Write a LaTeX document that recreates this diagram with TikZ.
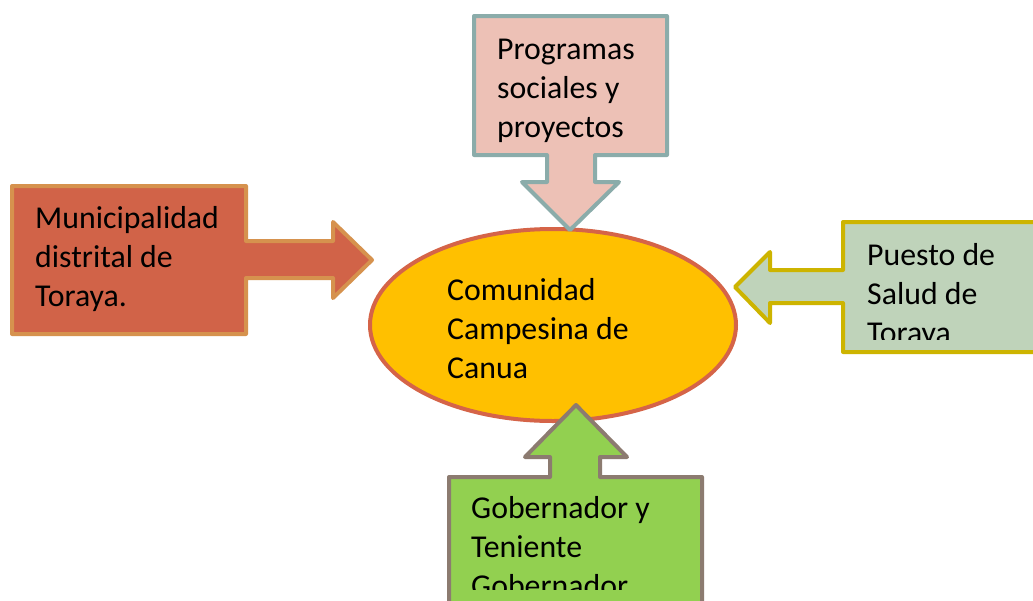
\documentclass[tikz,border=0pt]{standalone}
\usepackage{fontspec}
\setmainfont{Carlito}
\usetikzlibrary{shapes.geometric}
\definecolor{muniFill}{RGB}{209,99,72}
\definecolor{muniLine}{RGB}{214,146,78}
\definecolor{progFill}{RGB}{237,193,182}
\definecolor{progLine}{RGB}{139,172,170}
\definecolor{saludFill}{RGB}{191,211,186}
\definecolor{saludLine}{RGB}{205,180,0}
\definecolor{gobFill}{RGB}{146,208,80}
\definecolor{gobLine}{RGB}{140,123,112}
\definecolor{ellFill}{RGB}{255,192,0}
\definecolor{ellLine}{RGB}{213,100,72}
\tikzset{
  callout/.style={line width=4pt, line join=round},
  lbl/.style={anchor=base west, inner sep=0pt, font=\fontsize{31.8}{39}\selectfont, align=left}
}
\begin{document}
\begin{tikzpicture}[x=1pt,y=-1pt]
\clip (0,0) rectangle (1033,600);
\fill[white] (0,0) rectangle (1033,600);
% central ellipse
\node[draw=ellLine, fill=ellFill, line width=4pt, ellipse, minimum width=366pt, minimum height=192pt, inner sep=0pt] (center) at (553,325) {};
% left: Municipalidad
\draw[callout, draw=muniLine, fill=muniFill]
  (12,186) -- (246,186) -- (246,241) -- (333,241) -- (333,222) -- (372,260)
  -- (333,298) -- (333,278) -- (246,278) -- (246,334) -- (12,334) -- cycle;
% top: Programas
\draw[callout, draw=progLine, fill=progFill]
  (474,16) -- (667,16) -- (667,155) -- (595,155) -- (595,182) -- (619,182) -- (570,230)
  -- (522,182) -- (547,182) -- (547,155) -- (474,155) -- cycle;
% right: Puesto de Salud
\draw[callout, draw=saludLine, fill=saludFill]
  (1045,222) -- (843,222) -- (843,270) -- (770,270) -- (770,252) -- (735,287)
  -- (770,323) -- (770,303) -- (843,303) -- (843,352) -- (1045,352);
% bottom: Gobernador
\draw[callout, draw=gobLine, fill=gobFill]
  (449,620) -- (449,477) -- (550,477) -- (550,457) -- (525,457) -- (576,405)
  -- (627,457) -- (600,457) -- (600,477) -- (702,477) -- (702,620);
% texts (anchor = baseline of last line)
\node[lbl] (tmuni) at (35,306) {Municipalidad\\distrital de\\Toraya.};
\node[lbl] (tprog) at (497,137) {Programas\\sociales y\\proyectos};
\node[lbl] (tcom) at (447,378) {Comunidad\\Campesina de\\Canua};
\begin{scope}
\clip (845,224) rectangle (1033,339);
\node[lbl] (tsalud) at (867,343) {Puesto de\\Salud de\\Toraya};
\end{scope}
\begin{scope}
\clip (451,479) rectangle (700,589);
\node[lbl] (tgob) at (471,596) {Gobernador y\\Teniente\\Gobernador};
\end{scope}
\end{tikzpicture}
\end{document}
